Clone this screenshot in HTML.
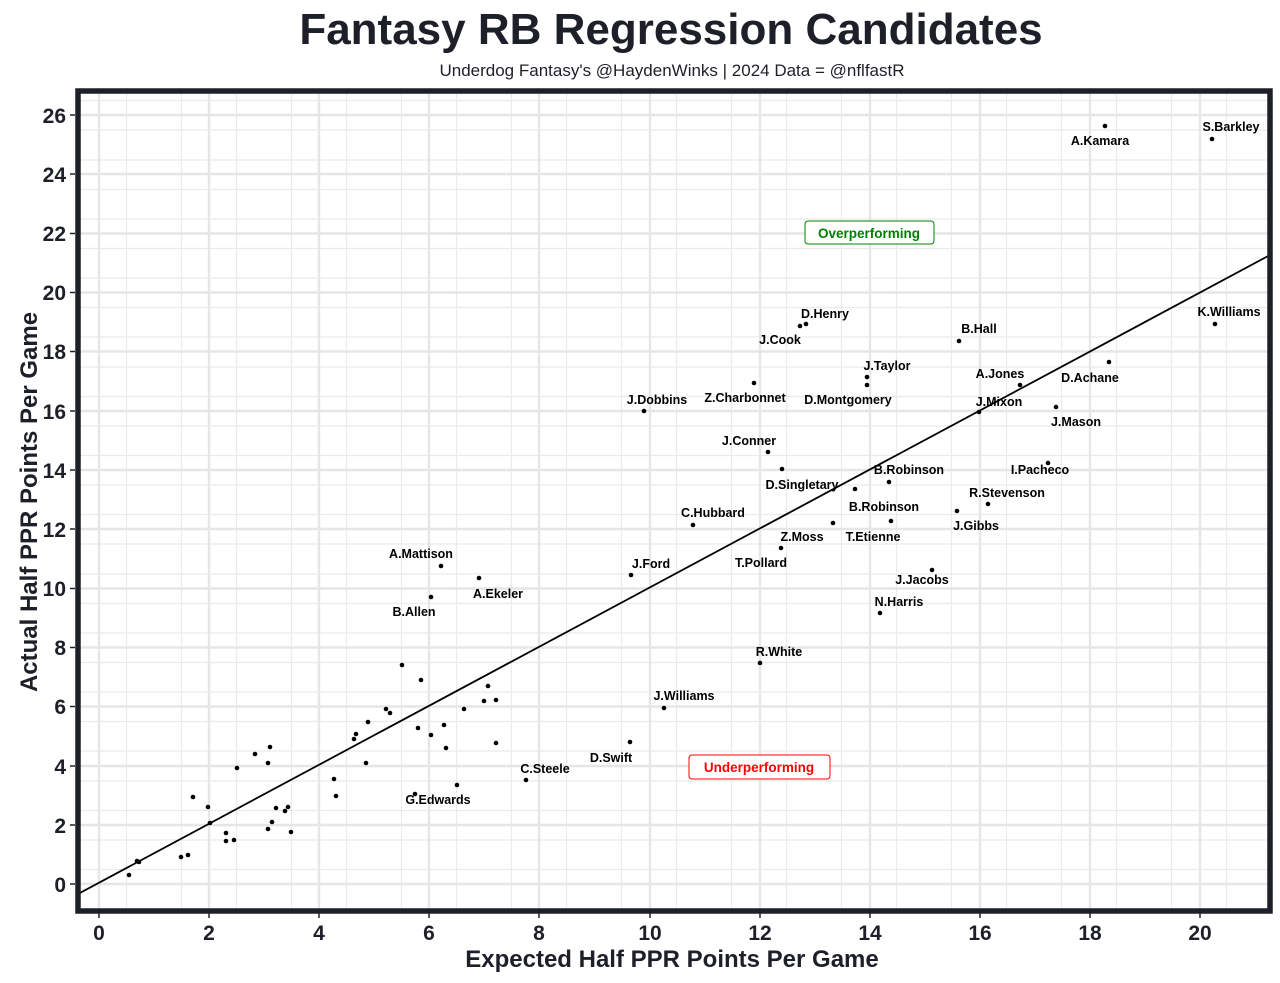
<!DOCTYPE html><html><head><style>body{margin:0;background:#fff}svg{display:block}text{font-family:"Liberation Sans",sans-serif}</style></head><body>
<svg width="1280" height="983" viewBox="0 0 1280 983">
<text x="671" y="44" text-anchor="middle" font-size="44" font-weight="bold" fill="#1e2029">Fantasy RB Regression Candidates</text>
<text x="672" y="76" text-anchor="middle" font-size="17" fill="#1e2029">Underdog Fantasy's @HaydenWinks | 2024 Data = @nflfastR</text>
<g stroke="#ebebeb" stroke-width="1.2">
<path d="M126.5 93V910M181.5 93V910M236.5 93V910M291.5 93V910M346.5 93V910M401.5 93V910M456.5 93V910M511.5 93V910M566.5 93V910M621.5 93V910M676.5 93V910M731.5 93V910M786.5 93V910M841.5 93V910M896.5 93V910M951.5 93V910M1006.5 93V910M1061.5 93V910M1116.5 93V910M1171.5 93V910M1226.5 93V910"/>
<path d="M78 869.5H1270M78 840H1270M78 810.5H1270M78 781H1270M78 751H1270M78 721.5H1270M78 692H1270M78 662.5H1270M78 633H1270M78 603.5H1270M78 574H1270M78 544H1270M78 514.5H1270M78 485H1270M78 455.5H1270M78 426H1270M78 396.5H1270M78 367H1270M78 337H1270M78 307.5H1270M78 278H1270M78 248.5H1270M78 219H1270M78 189.5H1270M78 160H1270M78 130H1270M78 100.5H1270"/>
</g>
<g stroke="#e6e6e6" stroke-width="2.4">
<path d="M99 93V910M209 93V910M319 93V910M429 93V910M539 93V910M650 93V910M760 93V910M870 93V910M980 93V910M1090 93V910M1200 93V910"/>
<path d="M78 884H1270M78 825H1270M78 766H1270M78 706.5H1270M78 647.5H1270M78 588.5H1270M78 529H1270M78 470H1270M78 411H1270M78 351.5H1270M78 292.5H1270M78 233.5H1270M78 174H1270M78 115H1270"/>
</g>
<line x1="78" y1="894" x2="1270" y2="255" stroke="#000" stroke-width="1.8"/>
<g fill="#000">
<circle cx="402" cy="665" r="2.3"/><circle cx="421" cy="680" r="2.3"/><circle cx="488" cy="686" r="2.3"/><circle cx="484" cy="701" r="2.3"/><circle cx="496" cy="700" r="2.3"/><circle cx="464" cy="709" r="2.3"/><circle cx="386" cy="709" r="2.3"/><circle cx="390" cy="713" r="2.3"/><circle cx="368" cy="722" r="2.3"/><circle cx="418" cy="728" r="2.3"/><circle cx="444" cy="725" r="2.3"/><circle cx="431" cy="735" r="2.3"/><circle cx="446" cy="748" r="2.3"/><circle cx="496" cy="743" r="2.3"/><circle cx="356" cy="734" r="2.3"/><circle cx="354" cy="739" r="2.3"/><circle cx="366" cy="763" r="2.3"/><circle cx="270" cy="747" r="2.3"/><circle cx="255" cy="754" r="2.3"/><circle cx="237" cy="768" r="2.3"/><circle cx="268" cy="763" r="2.3"/><circle cx="334" cy="779" r="2.3"/><circle cx="336" cy="796" r="2.3"/><circle cx="457" cy="785" r="2.3"/><circle cx="415" cy="794" r="2.3"/><circle cx="526" cy="780" r="2.3"/><circle cx="193" cy="797" r="2.3"/><circle cx="208" cy="807" r="2.3"/><circle cx="210" cy="823" r="2.3"/><circle cx="276" cy="808" r="2.3"/><circle cx="288" cy="807" r="2.3"/><circle cx="285" cy="811" r="2.3"/><circle cx="272" cy="822" r="2.3"/><circle cx="268" cy="829" r="2.3"/><circle cx="291" cy="832" r="2.3"/><circle cx="226" cy="833" r="2.3"/><circle cx="226" cy="841" r="2.3"/><circle cx="234" cy="840" r="2.3"/><circle cx="181" cy="857" r="2.3"/><circle cx="188" cy="855" r="2.3"/><circle cx="137" cy="861" r="2.3"/><circle cx="139" cy="862" r="2.3"/><circle cx="129" cy="875" r="2.3"/>
<circle cx="1105" cy="126" r="2.3"/><circle cx="1212" cy="139" r="2.3"/><circle cx="800" cy="326" r="2.3"/><circle cx="806" cy="324" r="2.3"/><circle cx="959" cy="341" r="2.3"/><circle cx="1215" cy="324" r="2.3"/><circle cx="867" cy="377" r="2.3"/><circle cx="867" cy="385" r="2.3"/><circle cx="1109" cy="362" r="2.3"/><circle cx="1020" cy="385" r="2.3"/><circle cx="754" cy="383" r="2.3"/><circle cx="644" cy="411" r="2.3"/><circle cx="979" cy="412" r="2.3"/><circle cx="1056" cy="407" r="2.3"/><circle cx="768" cy="452" r="2.3"/><circle cx="782" cy="469" r="2.3"/><circle cx="855" cy="489" r="2.3"/><circle cx="889" cy="482" r="2.3"/><circle cx="891" cy="521" r="2.3"/><circle cx="1048" cy="463" r="2.3"/><circle cx="988" cy="504" r="2.3"/><circle cx="957" cy="511" r="2.3"/><circle cx="693" cy="525" r="2.3"/><circle cx="781" cy="548" r="2.3"/><circle cx="833" cy="523" r="2.3"/><circle cx="932" cy="570" r="2.3"/><circle cx="880" cy="613" r="2.3"/><circle cx="631" cy="575" r="2.3"/><circle cx="441" cy="566" r="2.3"/><circle cx="431" cy="597" r="2.3"/><circle cx="479" cy="578" r="2.3"/><circle cx="760" cy="663" r="2.3"/><circle cx="664" cy="708" r="2.3"/><circle cx="630" cy="742" r="2.3"/>
</g>
<g font-size="12.5" font-weight="bold" fill="#000" text-anchor="middle">
<text x="1100" y="145">A.Kamara</text><text x="1231" y="131">S.Barkley</text><text x="825" y="318">D.Henry</text><text x="780" y="344">J.Cook</text><text x="979" y="333">B.Hall</text><text x="1229" y="316">K.Williams</text><text x="887" y="370">J.Taylor</text><text x="1090" y="382">D.Achane</text><text x="1000" y="378">A.Jones</text><text x="745" y="402">Z.Charbonnet</text><text x="848" y="404">D.Montgomery</text><text x="657" y="404">J.Dobbins</text><text x="999" y="406">J.Mixon</text><text x="1076" y="426">J.Mason</text><text x="749" y="445">J.Conner</text><text x="802" y="489">D.Singletary</text><text x="909" y="474">B.Robinson</text><text x="884" y="511">B.Robinson</text><text x="1040" y="474">I.Pacheco</text><text x="1007" y="497">R.Stevenson</text><text x="976" y="530">J.Gibbs</text><text x="713" y="517">C.Hubbard</text><text x="802" y="541">Z.Moss</text><text x="761" y="567">T.Pollard</text><text x="873" y="541">T.Etienne</text><text x="922" y="584">J.Jacobs</text><text x="899" y="606">N.Harris</text><text x="651" y="568">J.Ford</text><text x="421" y="558">A.Mattison</text><text x="414" y="616">B.Allen</text><text x="498" y="598">A.Ekeler</text><text x="779" y="656">R.White</text><text x="684" y="700">J.Williams</text><text x="611" y="762">D.Swift</text><text x="545" y="773">C.Steele</text><text x="438" y="804">G.Edwards</text>
</g>
<rect x="805" y="221" width="129" height="23" rx="3" fill="#fff" stroke="#008000" stroke-width="1"/>
<text x="869" y="238" text-anchor="middle" font-size="13.5" font-weight="bold" fill="#008000">Overperforming</text>
<rect x="689" y="755" width="141" height="24" rx="3" fill="#fff" stroke="#ff0000" stroke-width="1"/>
<text x="759" y="772" text-anchor="middle" font-size="13.5" font-weight="bold" fill="#ff0000">Underperforming</text>
<rect x="78" y="91" width="1192" height="820" fill="none" stroke="#1e2029" stroke-width="5.5"/>
<g stroke="#1e2029" stroke-width="1.5">
<path d="M70 884H75M70 825H75M70 766H75M70 706.5H75M70 647.5H75M70 588.5H75M70 529H75M70 470H75M70 411H75M70 351.5H75M70 292.5H75M70 233.5H75M70 174H75M70 115H75"/>
<path d="M99 913V918M209 913V918M319 913V918M429 913V918M539 913V918M650 913V918M760 913V918M870 913V918M980 913V918M1090 913V918M1200 913V918"/>
</g>
<g font-size="21" font-weight="bold" fill="#1e2029" text-anchor="end">
<text x="66" y="892">0</text><text x="66" y="833">2</text><text x="66" y="774">4</text><text x="66" y="714">6</text><text x="66" y="655">8</text><text x="66" y="596">10</text><text x="66" y="537">12</text><text x="66" y="478">14</text><text x="66" y="419">16</text><text x="66" y="359">18</text><text x="66" y="300">20</text><text x="66" y="241">22</text><text x="66" y="182">24</text><text x="66" y="123">26</text>
</g>
<g font-size="21" font-weight="bold" fill="#1e2029" text-anchor="middle">
<text x="99" y="940">0</text><text x="209" y="940">2</text><text x="319" y="940">4</text><text x="429" y="940">6</text><text x="539" y="940">8</text><text x="650" y="940">10</text><text x="760" y="940">12</text><text x="870" y="940">14</text><text x="980" y="940">16</text><text x="1090" y="940">18</text><text x="1200" y="940">20</text>
</g>
<text x="672" y="967" text-anchor="middle" font-size="24" font-weight="bold" fill="#1e2029">Expected Half PPR Points Per Game</text>
<text transform="translate(37,502) rotate(-90)" text-anchor="middle" font-size="24" font-weight="bold" fill="#1e2029">Actual Half PPR Points Per Game</text>
</svg></body></html>
